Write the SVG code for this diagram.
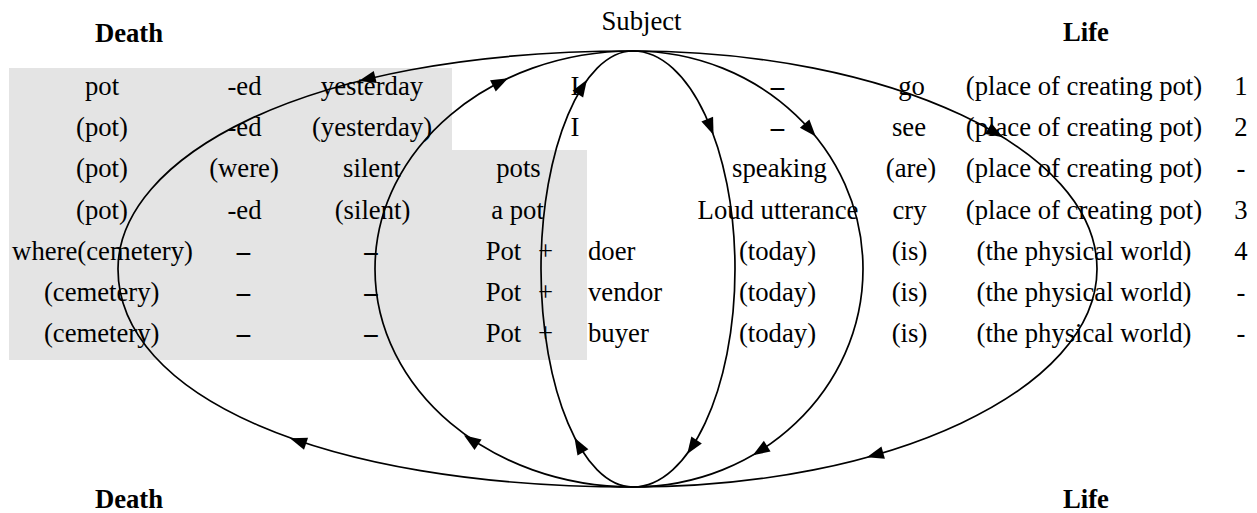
<svg xmlns="http://www.w3.org/2000/svg" xmlns:xlink="http://www.w3.org/1999/xlink" width="1257" height="513" viewBox="0 0 1257 513">
<style>
text{font-family:"Liberation Serif","Times New Roman",serif;font-size:26.7px;fill:#000;text-anchor:middle}
.b{font-weight:bold}
.s{text-anchor:start}
.d{font-weight:bold}
.c{fill:none;stroke:#000;stroke-width:1.7}
.ah{fill:#000}
</style>
<defs>
<path id="ah" class="ah" d="M8.5,0 L-8.5,-6.3 L-8.5,6.3 Z"/>
</defs>
<rect width="1257" height="513" fill="#fff"/>
<g id="shade">
<path d="M9,68 H452 V150 H587 V360 H9 Z" fill="#e4e4e4"/>
</g>
<g id="headers">
<text class="b" x="129" y="41.5">Death</text>
<text x="641.5" y="29.5">Subject</text>
<text class="b" x="1086" y="41">Life</text>
<text class="b" x="129" y="508">Death</text>
<text class="b" x="1086" y="508">Life</text>
</g>
<g id="row1">
<text x="102" y="95">pot</text>
<text x="244.5" y="95">-ed</text>
<text x="372" y="95">yesterday</text>
<text x="575" y="95">I</text>
<text class="d" x="777.5" y="95">–</text>
<text x="911.5" y="95">go</text>
<text x="1084" y="95">(place of creating pot)</text>
<text x="1241" y="95">1</text>
</g>
<g id="row2">
<text x="102" y="136.2">(pot)</text>
<text x="244.5" y="136.2">-ed</text>
<text x="372" y="136.2">(yesterday)</text>
<text x="575" y="136.2">I</text>
<text class="d" x="777.5" y="136.2">–</text>
<text x="909" y="136.2">see</text>
<text x="1084" y="136.2">(place of creating pot)</text>
<text x="1241" y="136.2">2</text>
</g>
<g id="row3">
<text x="102" y="177.3">(pot)</text>
<text x="244" y="177.3">(were)</text>
<text x="372" y="177.3">silent</text>
<text x="518.5" y="177.3">pots</text>
<text x="779.5" y="177.3">speaking</text>
<text x="911" y="177.3">(are)</text>
<text x="1084" y="177.3">(place of creating pot)</text>
<text x="1241" y="177.3">-</text>
</g>
<g id="row4">
<text x="102" y="218.5">(pot)</text>
<text x="244.5" y="218.5">-ed</text>
<text x="372.5" y="218.5">(silent)</text>
<text x="517.5" y="218.5">a pot</text>
<text x="778" y="218.5">Loud utterance</text>
<text x="909.5" y="218.5">cry</text>
<text x="1084" y="218.5">(place of creating pot)</text>
<text x="1241" y="218.5">3</text>
</g>
<g id="row5">
<text x="102.5" y="259.7">where(cemetery)</text>
<text class="d" x="243.5" y="259.7">–</text>
<text class="d" x="371" y="259.7">–</text>
<text x="503.5" y="259.7">Pot</text>
<text x="545.5" y="259.7">+</text>
<text class="s" x="588" y="259.7">doer</text>
<text x="777.5" y="259.7">(today)</text>
<text x="909.5" y="259.7">(is)</text>
<text x="1084" y="259.7">(the physical world)</text>
<text x="1241" y="259.7">4</text>
</g>
<g id="row6">
<text x="101.7" y="300.8">(cemetery)</text>
<text class="d" x="243.5" y="300.8">–</text>
<text class="d" x="371" y="300.8">–</text>
<text x="503.5" y="300.8">Pot</text>
<text x="545.5" y="300.8">+</text>
<text class="s" x="588" y="300.8">vendor</text>
<text x="777.5" y="300.8">(today)</text>
<text x="909.5" y="300.8">(is)</text>
<text x="1084" y="300.8">(the physical world)</text>
<text x="1241" y="300.8">-</text>
</g>
<g id="row7">
<text x="101.7" y="342">(cemetery)</text>
<text class="d" x="243.5" y="342">–</text>
<text class="d" x="371" y="342">–</text>
<text x="503.5" y="342">Pot</text>
<text x="545.5" y="342">+</text>
<text class="s" x="588" y="342">buyer</text>
<text x="777.5" y="342">(today)</text>
<text x="909.5" y="342">(is)</text>
<text x="1084" y="342">(the physical world)</text>
<text x="1241" y="342">-</text>
</g>
<g id="connectors">
<path class="c" d="M633,51 C298,51 118,160 118,269 C118,395 320,487 633,487"/>
<path class="c" d="M633,51 C490.5,51 375,148.6 375,269 C375,389.4 490.5,487 633,487"/>
<path class="c" d="M633,51 C582.2,51 541,148.6 541,269 C541,389.4 582.2,487 633,487"/>
<path class="c" d="M633,51 C689.3,51 735,148.6 735,269 C735,389.4 689.3,487 633,487"/>
<path class="c" d="M633,51 C760,51 863,148.6 863,269 C863,389.4 760,487 633,487"/>
<path class="c" d="M633,51 C889.3,51 1097,148.6 1097,269 C1097,389.4 889.3,487 633,487"/>
<use xlink:href="#ah" transform="translate(367,79) rotate(166.4)"/>
<use xlink:href="#ah" transform="translate(298,441) rotate(-161.2)"/>
<use xlink:href="#ah" transform="translate(500.5,82) rotate(-26.8)"/>
<use xlink:href="#ah" transform="translate(471,440) rotate(-146.1)"/>
<use xlink:href="#ah" transform="translate(582.4,87) rotate(-57.4)"/>
<use xlink:href="#ah" transform="translate(578.7,445) rotate(-120)"/>
<use xlink:href="#ah" transform="translate(710.4,127) rotate(68.1)"/>
<use xlink:href="#ah" transform="translate(691.9,447) rotate(123.5)"/>
<use xlink:href="#ah" transform="translate(810.2,130) rotate(48.9)"/>
<use xlink:href="#ah" transform="translate(760,450.7) rotate(147.9)"/>
<use xlink:href="#ah" transform="translate(995.6,133) rotate(30.5)"/>
<use xlink:href="#ah" transform="translate(875,455) rotate(164)"/>
</g>
</svg>
